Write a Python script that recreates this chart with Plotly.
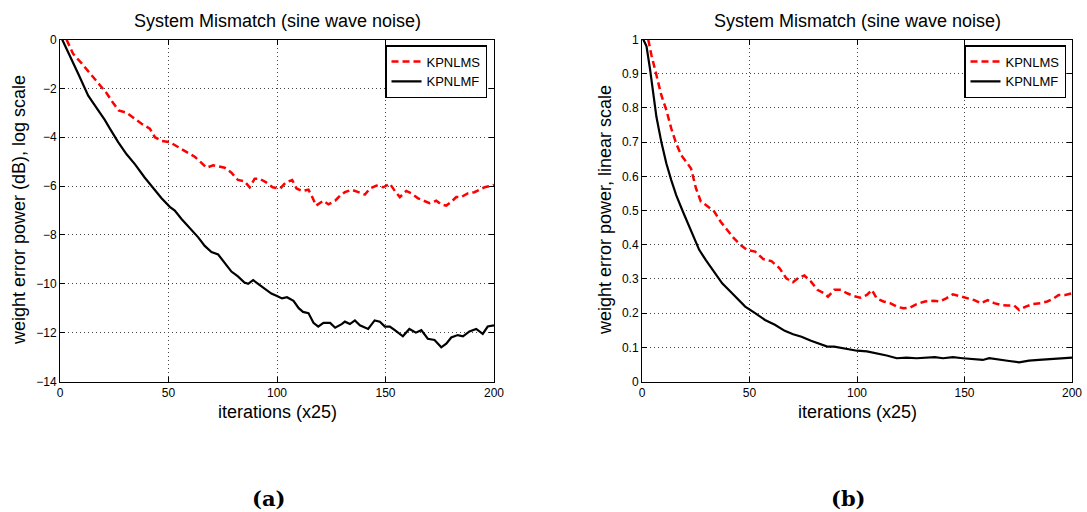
import plotly.graph_objects as go

# ---------------- data ----------------
# Panel (a): dB scale
xa_kpnlms = [3, 6, 10, 14, 17.6, 21.5, 24.5, 27, 30.7, 33.7, 37.6, 41.4, 43.7, 46.8, 50.6, 54.4, 58.3, 62.1,
             65.2, 67.5, 70.6, 72.9, 75.9, 79, 82, 85, 87.4, 89.7, 92, 95, 98, 101.5, 104, 107, 109, 111.5,
             114.5, 116, 118, 121.4, 123.7, 126.8, 129, 131.3, 134.4, 137.5, 140.5, 142.8, 145.9, 149, 152,
             154.3, 156.6, 159.6, 161.9, 165, 168, 170.3, 173.4, 175.7, 178, 180.3, 182.6, 184.9, 187.9, 191,
             193.3, 195.6, 197.9, 200]
ya_kpnlms = [0, -0.58, -0.98, -1.4, -1.8, -2.2, -2.6, -2.9, -3.0, -3.2, -3.45, -3.65, -4.0, -4.15, -4.2, -4.4,
             -4.6, -4.8, -5.05, -5.25, -5.15, -5.2, -5.25, -5.45, -5.75, -5.8, -6.05, -5.7, -5.7, -5.85, -6.05,
             -6.1, -5.85, -5.75, -6.1, -6.2, -6.15, -6.4, -6.8, -6.6, -6.75, -6.6, -6.4, -6.25, -6.15, -6.25,
             -6.35, -6.1, -5.98, -6.05, -5.9, -6.2, -6.45, -6.2, -6.3, -6.5, -6.6, -6.7, -6.6, -6.75, -6.8,
             -6.65, -6.45, -6.45, -6.3, -6.25, -6.15, -6.05, -6.0, -5.95]

xa_kpnlmf = [1, 4.6, 8.4, 13, 16.9, 20.7, 23, 26.8, 30.7, 34.5, 39, 43, 46.8, 50.6, 52.9, 56, 59.8, 63.7, 66.7,
             69.8, 72.9, 75.9, 79, 82, 85, 86.7, 89, 91.3, 94.3, 97.4, 100, 102.3, 104.6, 107.6, 110, 112, 114.5,
             116.8, 119, 121.4, 124.5, 126.8, 129.8, 131.3, 133.6, 135.9, 138.2, 142, 145, 147.4, 149.7, 152,
             154.3, 158, 161, 164, 166.5, 169.5, 172.6, 175.7, 178, 180.3, 183.3, 185.7, 188.7, 191.8, 194.8,
             197.1, 200]
ya_kpnlmf = [0, -0.65, -1.4, -2.3, -2.8, -3.3, -3.65, -4.2, -4.7, -5.1, -5.65, -6.1, -6.5, -6.85, -7.0, -7.35,
             -7.7, -8.1, -8.45, -8.7, -8.8, -9.15, -9.5, -9.7, -9.95, -10.0, -9.85, -10.0, -10.2, -10.4, -10.5,
             -10.6, -10.55, -10.7, -11.0, -11.15, -11.2, -11.6, -11.75, -11.6, -11.6, -11.8, -11.65, -11.55,
             -11.65, -11.5, -11.7, -11.85, -11.5, -11.55, -11.75, -11.75, -11.9, -12.15, -11.85, -12.0, -11.9,
             -12.25, -12.3, -12.6, -12.45, -12.2, -12.1, -12.15, -11.95, -11.85, -12.05, -11.75, -11.7]

# Panel (b): linear scale
xb_kpnlms = [2.9, 4.4, 6.7, 9, 11.3, 13.6, 15.9, 18.2, 20.5, 22.8, 25.1, 27.4, 29.7, 33.6, 36.6, 39.6, 42.7,
             45.7, 48.8, 52.6, 56.4, 60.2, 64, 67.1, 70.2, 72.5, 75.5, 78.6, 81.6, 84.7, 86.5, 89.4, 92.5, 95.4,
             98.5, 101.5, 104.6, 106.9, 109.2, 112.3, 115.4, 118.5, 121.5, 124.6, 127.7, 131.5, 135.4, 138.5,
             141.5, 144.6, 148.5, 151.5, 154.6, 157.7, 160.8, 163.8, 166.9, 170, 173.1, 175.4, 178.5, 181.5,
             185.4, 188.5, 191.5, 193.8, 196.9, 200]
yb_kpnlms = [1.0, 0.954, 0.896, 0.837, 0.794, 0.74, 0.696, 0.662, 0.643, 0.623, 0.565, 0.526, 0.516, 0.497,
             0.467, 0.443, 0.419, 0.40, 0.385, 0.38, 0.358, 0.352, 0.331, 0.302, 0.29, 0.302, 0.31, 0.292, 0.268,
             0.258, 0.248, 0.268, 0.268, 0.258, 0.25, 0.245, 0.253, 0.268, 0.243, 0.234, 0.229, 0.219, 0.214,
             0.216, 0.226, 0.234, 0.236, 0.234, 0.243, 0.255, 0.248, 0.243, 0.238, 0.229, 0.238, 0.229, 0.224,
             0.222, 0.222, 0.209, 0.219, 0.226, 0.229, 0.234, 0.243, 0.253, 0.253, 0.258]

xb_kpnlmf = [0.6, 2.1, 3.7, 5.2, 6.7, 9, 11.3, 13.6, 15.9, 19, 22, 24.3, 26.6, 29.7, 33.6, 37.3, 41.1, 45, 48,
             52.6, 57.2, 61.8, 66.4, 70.3, 74.2, 78.6, 82.6, 86.2, 89.4, 93.3, 97, 100, 104.6, 109.2, 113.8,
             118.5, 123, 127.7, 132.3, 136.2, 140, 144.6, 149.2, 153.8, 158.5, 161.5, 166.2, 170.8, 175.4, 180,
             184.6, 189.2, 193.8, 196.9, 200]
yb_kpnlmf = [1.0, 0.98, 0.915, 0.837, 0.774, 0.70, 0.638, 0.589, 0.545, 0.497, 0.453, 0.419, 0.385, 0.355,
             0.321, 0.287, 0.263, 0.239, 0.219, 0.20, 0.18, 0.166, 0.148, 0.138, 0.131, 0.119, 0.109, 0.102,
             0.102, 0.097, 0.092, 0.09, 0.088, 0.083, 0.076, 0.068, 0.07, 0.068, 0.07, 0.071, 0.068, 0.071,
             0.068, 0.066, 0.063, 0.068, 0.063, 0.06, 0.056, 0.061, 0.063, 0.065, 0.066, 0.068, 0.07]

series_names = ["KPNLMS", "KPNLMF"]
titles = ["System Mismatch (sine wave noise)", "System Mismatch (sine wave noise)"]
ylabels = ["weight error power (dB), log scale", "weight error power, linear scale"]
xlabel = "iterations (x25)"
captions = ["(a)", "(b)"]

# ---------------- figure ----------------
W, H = 1087, 512
FONT = "Liberation Sans, Arial, Helvetica, sans-serif"
RED_DASH = "7px,4px"

fig = go.Figure()
fig.add_trace(go.Scatter(x=xa_kpnlms, y=ya_kpnlms, mode="lines", name=series_names[0],
                         line=dict(color="#ff0000", width=2.5, dash=RED_DASH),
                         xaxis="x", yaxis="y", legend="legend"))
fig.add_trace(go.Scatter(x=xa_kpnlmf, y=ya_kpnlmf, mode="lines", name=series_names[1],
                         line=dict(color="#000000", width=2.2),
                         xaxis="x", yaxis="y", legend="legend"))
fig.add_trace(go.Scatter(x=xb_kpnlms, y=yb_kpnlms, mode="lines", name=series_names[0],
                         line=dict(color="#ff0000", width=2.5, dash=RED_DASH),
                         xaxis="x2", yaxis="y2", legend="legend2"))
fig.add_trace(go.Scatter(x=xb_kpnlmf, y=yb_kpnlmf, mode="lines", name=series_names[1],
                         line=dict(color="#000000", width=2.2),
                         xaxis="x2", yaxis="y2", legend="legend2"))

# pixel geometry of the two plot areas
ax_a = (60, 494)
ax_b = (642, 1072)
top_px, bot_px = 39.5, 381.5
ydom = [1 - bot_px / H, 1 - top_px / H]

common = dict(showline=True, linecolor="black", linewidth=1, mirror="allticks",
              ticks="inside", ticklen=5, tickwidth=1, tickcolor="black",
              showgrid=True, gridcolor="#444444", gridwidth=1, griddash="1px,3px",
              zeroline=False, automargin=False,
              tickfont=dict(family=FONT, size=12, color="black"))

fig.update_layout(
    template="none",
    width=W, height=H,
    margin=dict(l=0, r=0, t=0, b=0, pad=0),
    paper_bgcolor="white", plot_bgcolor="white",
    font=dict(family=FONT, color="black"),
    xaxis=dict(domain=[ax_a[0] / W, ax_a[1] / W], range=[0, 200], dtick=50, anchor="y", **common),
    yaxis=dict(domain=ydom, range=[-14, 0], dtick=2, anchor="x", **common),
    xaxis2=dict(domain=[ax_b[0] / W, ax_b[1] / W], range=[0, 200], dtick=50, anchor="y2", **common),
    yaxis2=dict(domain=ydom, range=[0, 1], dtick=0.1, anchor="x2", **common),
    legend=dict(x=487 / W, y=1 - 45 / H, xanchor="right", yanchor="top",
                bgcolor="white", bordercolor="black", borderwidth=1.5,
                font=dict(family=FONT, size=13, color="black"), tracegroupgap=0),
    legend2=dict(x=1066 / W, y=1 - 45 / H, xanchor="right", yanchor="top",
                 bgcolor="white", bordercolor="black", borderwidth=1.5,
                 font=dict(family=FONT, size=13, color="black"), tracegroupgap=0),
    showlegend=True,
)

ann = []
for (l, r), t, yl, cap, ylx in zip([ax_a, ax_b], titles, ylabels, captions, [19, 605]):
    cx = (l + r) / 2
    ann.append(dict(text=t, x=cx / W, y=1 - 21 / H, xref="paper", yref="paper",
                    xanchor="center", yanchor="middle", showarrow=False,
                    font=dict(family=FONT, size=18, color="black")))
    ann.append(dict(text=xlabel, x=cx / W, y=1 - 412 / H, xref="paper", yref="paper",
                    xanchor="center", yanchor="middle", showarrow=False,
                    font=dict(family=FONT, size=18, color="black")))
    ann.append(dict(text=yl, x=ylx / W, y=1 - 210 / H, xref="paper", yref="paper",
                    xanchor="center", yanchor="middle", showarrow=False, textangle=-90,
                    font=dict(family=FONT, size=18, color="black")))
    ann.append(dict(text="<b>" + cap + "</b>", x=(cx - 9) / W, y=1 - 498 / H, xref="paper", yref="paper",
                    xanchor="center", yanchor="middle", showarrow=False,
                    font=dict(family="DejaVu Serif, serif", size=21, color="black")))
fig.update_layout(annotations=ann)

fig.write_html("out.html")
